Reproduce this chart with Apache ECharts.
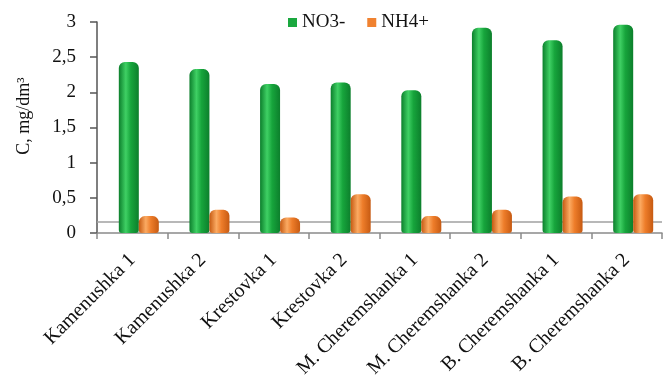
<!DOCTYPE html>
<html>
<head>
<meta charset="utf-8">
<script src="https://cdn.jsdelivr.net/npm/echarts@6/dist/echarts.min.js"></script>
<style>html,body{margin:0;padding:0;background:#fff;}#c{width:670px;height:381px;}</style>
</head>
<body>
<div id="c"></div>
<script>
var categories = ['Kamenushka 1','Kamenushka 2','Krestovka 1','Krestovka 2','M. Cheremshanka 1','M. Cheremshanka 2','B. Cheremshanka 1','B. Cheremshanka 2'];
var no3 = [2.43, 2.33, 2.12, 2.14, 2.03, 2.92, 2.74, 2.96];
var nh4 = [0.24, 0.33, 0.22, 0.55, 0.24, 0.33, 0.52, 0.55];
var yTicks = {min: 0, max: 3, interval: 0.5};

var font = 'Liberation Serif';
var chart = echarts.init(document.getElementById('c'));
function cyl(dark, mid, light) {
  return new echarts.graphic.LinearGradient(0, 0, 1, 0, [
    {offset: 0, color: dark}, {offset: 0.35, color: light}, {offset: 0.6, color: mid}, {offset: 1, color: dark}
  ]);
}
chart.setOption({
  animation: false,
  backgroundColor: '#fff',
  grid: {left: 97, right: 8, top: 22, bottom: 148},
  legend: {
    data: [{name: 'NO3-', itemStyle: {color: '#1aa83f'}}, {name: 'NH4+', itemStyle: {color: '#f08230'}}],
    left: 283, top: 8, icon: 'rect', itemWidth: 9, itemHeight: 9, itemGap: 22,
    textStyle: {fontFamily: font, fontSize: 19, color: '#111'}
  },
  graphic: [{
    type: 'text', x: 24, y: 116, rotation: Math.PI / 2,
    style: {text: 'C, mg/dm³', fontFamily: font, fontSize: 18, fill: '#111', textAlign: 'center', textVerticalAlign: 'middle'}
  }],
  xAxis: {
    type: 'category', data: categories,
    axisLine: {lineStyle: {color: '#8a8a8a', width: 1.5}},
    axisTick: {show: true, length: 6, lineStyle: {color: '#8a8a8a', width: 1.5}},
    axisLabel: {rotate: 45, fontFamily: font, fontSize: 20, color: '#111', margin: 24, interval: 0}
  },
  yAxis: {
    type: 'value', min: yTicks.min, max: yTicks.max, interval: yTicks.interval,
    axisLine: {show: true, lineStyle: {color: '#555', width: 1.5}},
    axisTick: {show: true, length: 7, lineStyle: {color: '#555', width: 1.5}},
    splitLine: {show: false},
    axisLabel: {fontFamily: font, fontSize: 19, color: '#111', margin: 21,
      formatter: function (v) { return String(v).replace('.', ','); }}
  },
  series: [
    {name: 'pad', type: 'bar', barWidth: 13, z: 1, data: categories.map(function () { return null; }), silent: true,
      markLine: {silent: true, symbol: 'none', label: {show: false},
        lineStyle: {color: '#a0a0a0', type: 'solid', width: 1.5},
        data: [{yAxis: 0.16}]}
    },
    {name: 'NO3-', type: 'bar', barWidth: 20, z: 5, data: no3,
      itemStyle: {color: cyl('#0c7f2c', '#17a53c', '#3fd064'), borderRadius: [6, 6, 3, 3]}
    },
    {name: 'NH4+', type: 'bar', barWidth: 20, barGap: '0%', z: 5, data: nh4,
      itemStyle: {color: cyl('#c65a12', '#ee7d2a', '#fbaa62'), borderRadius: [6, 6, 3, 3]}}
  ]
});
</script>
</body>
</html>
